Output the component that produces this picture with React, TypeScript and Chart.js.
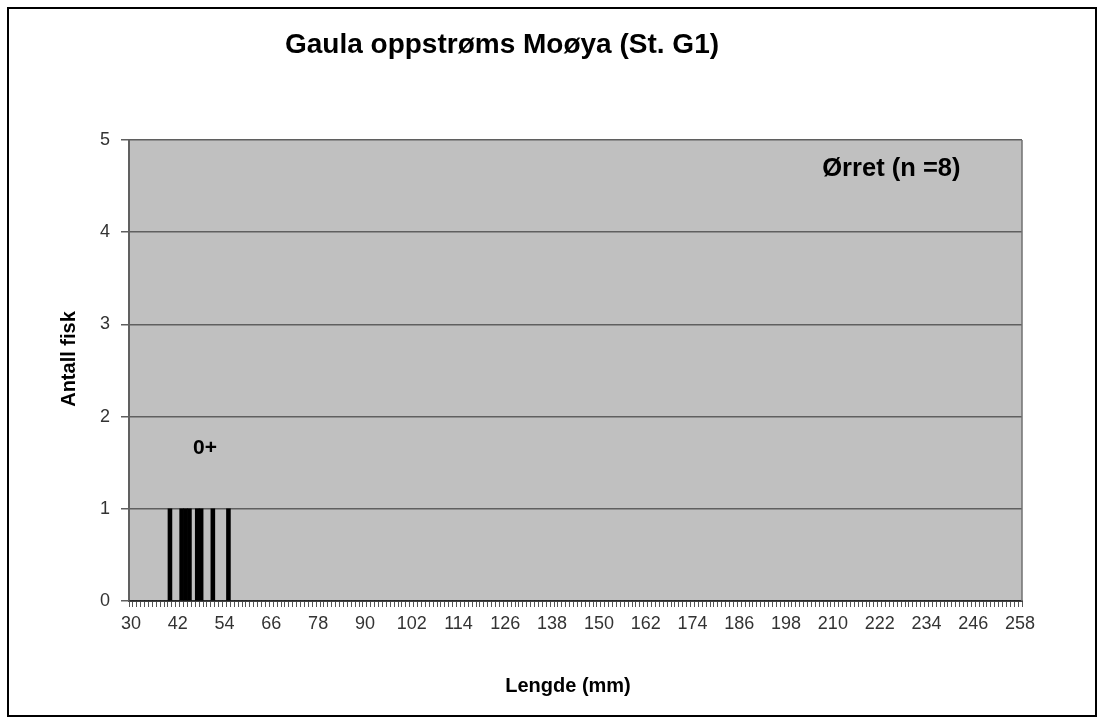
import React, { useEffect, useRef } from 'react';
import { Chart, registerables } from 'chart.js';

Chart.register(...registerables);

const TITLE = 'Gaula oppstrøms Moøya (St. G1)';
const X_TITLE = 'Lengde (mm)';
const Y_TITLE = 'Antall fisk';
const SPECIES_LABEL = 'Ørret (n =8)';
const AGE_LABEL = '0+';

const FIRST_LENGTH = 30;
const LAST_LENGTH = 258;
const LABEL_EVERY = 12;

const lengthCategories: string[] = [];
for (let v = FIRST_LENGTH; v <= LAST_LENGTH; v++) lengthCategories.push(String(v));

// individual fish lengths (mm)
const fishLengths = [40, 43, 44, 45, 47, 48, 51, 55];
const fishCounts = lengthCategories.map((c) => fishLengths.filter((f) => f === Number(c)).length);

const Y_MIN = 0;
const Y_MAX = 5;

// annotation anchors in data units
const speciesAnchor = { x: '225', y: 4.69 };
const ageAnchor = { x: '49', y: 1.66 };

const FONT = "'Liberation Sans', Arial, Helvetica, sans-serif";

export default function App() {
  const ref = useRef<HTMLCanvasElement | null>(null);

  useEffect(() => {
    const canvas = ref.current;
    if (!canvas) return;

    const decor = {
      id: 'decor',
      beforeDraw(chart: any) {
        const { ctx, chartArea: a, width, height } = chart;
        ctx.save();
        ctx.fillStyle = '#ffffff';
        ctx.fillRect(0, 0, width, height);
        ctx.fillStyle = '#c0c0c0';
        ctx.fillRect(a.left, a.top, a.right - a.left, a.bottom - a.top);
        ctx.restore();
      },
      afterDraw(chart: any) {
        const { ctx, chartArea: a } = chart;
        const xs = chart.scales.x;
        const ys = chart.scales.y;
        ctx.save();
        ctx.strokeStyle = '#707070';
        ctx.lineWidth = 1.5;
        ctx.beginPath();
        ctx.moveTo(a.right, a.top);
        ctx.lineTo(a.right, a.bottom);
        ctx.stroke();

        ctx.fillStyle = '#000000';
        ctx.textAlign = 'center';
        ctx.textBaseline = 'middle';
        ctx.font = `bold 28px ${FONT}`;
        ctx.fillText(TITLE, 493, 36);

        ctx.font = `bold 20px ${FONT}`;
        ctx.fillText(X_TITLE, 559, 677);

        ctx.save();
        ctx.translate(60, 350);
        ctx.rotate(-Math.PI / 2);
        ctx.font = `bold 20px ${FONT}`;
        ctx.fillText(Y_TITLE, 0, 0);
        ctx.restore();

        ctx.font = `bold 25.5px ${FONT}`;
        const sx = xs.getPixelForValue(lengthCategories.indexOf(speciesAnchor.x));
        ctx.fillText(SPECIES_LABEL, sx, ys.getPixelForValue(speciesAnchor.y));

        ctx.font = `bold 21px ${FONT}`;
        const axp = xs.getPixelForValue(lengthCategories.indexOf(ageAnchor.x));
        ctx.fillText(AGE_LABEL, axp, ys.getPixelForValue(ageAnchor.y));
        ctx.restore();
      },
    };

    const chart = new Chart(canvas, {
      type: 'bar',
      data: {
        labels: lengthCategories,
        datasets: [
          {
            data: fishCounts,
            backgroundColor: '#000000',
            borderColor: '#000000',
            borderWidth: 0,
            inflateAmount: 0.35,
            barPercentage: 1,
            categoryPercentage: 1,
          },
        ],
      },
      options: {
        responsive: false,
        animation: false,
        devicePixelRatio: 1,
        layout: { padding: { left: 0, top: 131, right: 73, bottom: 0 } },
        plugins: {
          legend: { display: false },
          tooltip: { enabled: false },
          title: { display: false },
        },
        scales: {
          x: {
            type: 'category',
            offset: true,
            afterFit: (s: any) => {
              s.height = 114;
            },
            border: { display: true, color: '#404040', width: 2 },
            grid: {
              offset: true,
              drawOnChartArea: false,
              drawTicks: true,
              tickLength: 6,
              color: '#555555',
              lineWidth: 1,
            },
            ticks: {
              autoSkip: false,
              maxRotation: 0,
              minRotation: 0,
              padding: 6,
              color: '#333333',
              font: { family: FONT, size: 18 },
              callback: function (this: any, value: any, index: number) {
                return index % LABEL_EVERY === 0 ? this.getLabelForValue(value) : '';
              },
            },
          },
          y: {
            min: Y_MIN,
            max: Y_MAX,
            afterFit: (s: any) => {
              s.width = 120;
            },
            border: { display: true, color: '#606060', width: 2 },
            grid: {
              color: '#5f5f5f',
              lineWidth: 1.5,
              drawTicks: true,
              tickLength: 8,
            },
            ticks: {
              stepSize: 1,
              padding: 11,
              color: '#333333',
              font: { family: FONT, size: 18 },
            },
          },
        },
      },
      plugins: [decor],
    });

    return () => chart.destroy();
  }, []);

  return (
    <div
      style={{
        position: 'absolute',
        left: 7,
        top: 7,
        border: '2px solid #000',
        width: 1086,
        height: 706,
        background: '#fff',
      }}
    >
      <canvas ref={ref} width={1086} height={706} style={{ display: 'block', width: 1086, height: 706 }} />
    </div>
  );
}
